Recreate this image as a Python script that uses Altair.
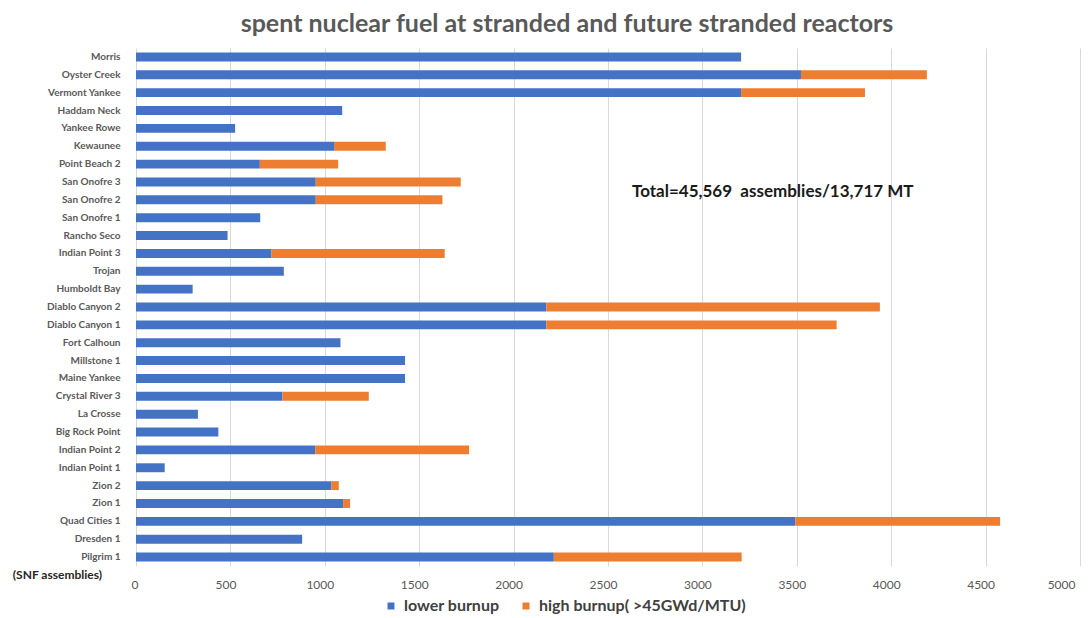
import altair as alt
import pandas as pd

reactors = [
    "Morris", "Oyster Creek", "Vermont Yankee", "Haddam Neck", "Yankee Rowe",
    "Kewaunee", "Point Beach  2", "San Onofre 3", "San Onofre 2", "San Onofre 1",
    "Rancho Seco", "Indian Point 3", "Trojan", "Humboldt Bay", "Diablo Canyon 2",
    "Diablo Canyon  1", "Fort Calhoun", "Millstone 1", "Maine Yankee", "Crystal River 3",
    "La Crosse", "Big Rock Point", "Indian Point 2", "Indian Point 1", "Zion 2",
    "Zion 1", "Quad Cities 1", "Dresden 1", "Pilgrim 1",
]
lower = [
    3205, 3522, 3205, 1092, 525,
    1049, 656, 952, 952, 658,
    485, 718, 783, 300, 2173,
    2173, 1083, 1425, 1425, 776,
    328, 436, 949, 152, 1035,
    1097, 3492, 880, 2213,
]
high = [
    0, 667, 656, 0, 0,
    274, 415, 768, 671, 0,
    0, 917, 0, 0, 1767,
    1538, 0, 0, 0, 457,
    0, 0, 815, 0, 39,
    37, 1085, 0, 995,
]
series = ["lower burnup", "high burnup( >45GWd/MTU)"]
x_ticks = list(range(0, 5001, 500))
annotation = ["Total=45,569\u00a0 assemblies/13,717 MT"]
unit_label = ["(SNF assemblies)"]

rows = []
for r, lo, hi in zip(reactors, lower, high):
    rows.append({"reactor": r, "series": series[0], "value": lo, "ord": 0})
    rows.append({"reactor": r, "series": series[1], "value": hi, "ord": 1})
df = pd.DataFrame(rows)

FONT = "Lato"

bars = alt.Chart(df).mark_bar().encode(
    y=alt.Y(
        "reactor:N", sort=reactors,
        scale=alt.Scale(paddingInner=0.5, paddingOuter=0.25),
        axis=alt.Axis(title=None, labelFontWeight="bold", labelFontSize=10,
                      labelColor="#595959", labelPadding=16, ticks=False,
                      domain=False, labelFont=FONT),
    ),
    x=alt.X(
        "value:Q", stack="zero",
        scale=alt.Scale(domain=[0, 5000], nice=False),
        axis=alt.Axis(values=x_ticks, format="d", title=None, grid=True,
                      gridColor="#D9D9D9", ticks=False, domain=False,
                      labelColor="#595959", labelFontSize=12, labelPadding=13,
                      labelFont=FONT, labelOffset=-5),
    ),
    color=alt.Color(
        "series:N",
        scale=alt.Scale(domain=series, range=["#4472C4", "#ED7D31"]),
        legend=alt.Legend(title=None, orient="none", direction="horizontal",
                          legendX=247, legendY=550, symbolType="square",
                          symbolSize=49, labelFontSize=16, labelFontWeight="bold",
                          labelColor="#404040", labelFont=FONT, columnPadding=18,
                          symbolStrokeWidth=0, labelLimit=0, labelOffset=5),
    ),
    order=alt.Order("ord:Q"),
)

note = alt.Chart(pd.DataFrame({"t": annotation})).mark_text(
    align="left", baseline="middle", fontSize=17, fontWeight="bold",
    font=FONT, color="#1a1a1a",
).encode(x=alt.value(496), y=alt.value(144), text="t:N")

unit = alt.Chart(pd.DataFrame({"t": unit_label})).mark_text(
    align="right", baseline="middle", fontSize=12, fontWeight="bold",
    font=FONT, color="#262626",
).encode(x=alt.value(-34), y=alt.value(527), text="t:N")

chart = alt.layer(bars, note, unit).properties(
    width=944, height=518,
    autosize=alt.AutoSizeParams(type="none"),
    padding={"left": 128, "top": 40, "right": 3, "bottom": 52},
    title=alt.TitleParams(
        "spent nuclear fuel at stranded and future stranded reactors",
        fontSize=25, font=FONT, fontWeight="bold", color="#595959",
        anchor="middle", offset=11, dx=-41,
    ),
).configure_view(stroke=None)

chart.save("out.html", embed_options={"renderer": "svg", "actions": False})
